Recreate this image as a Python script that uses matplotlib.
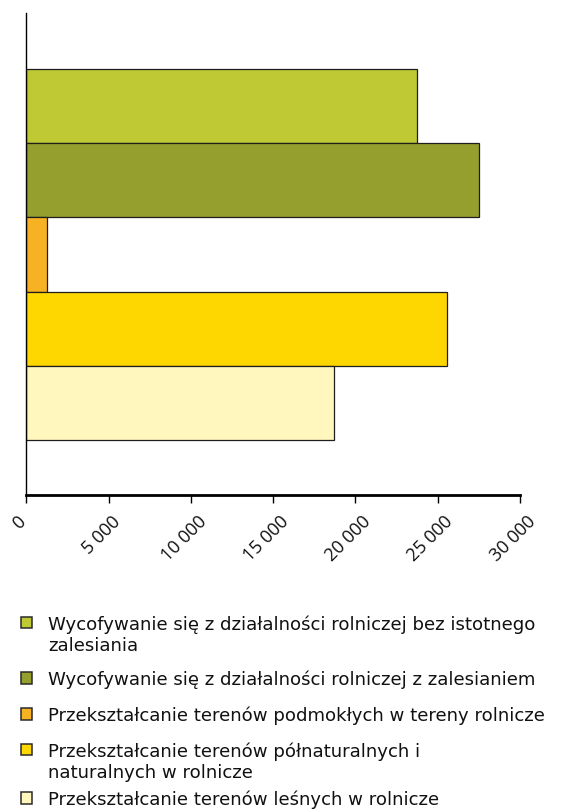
import numpy as np
import matplotlib
matplotlib.use("Agg")
import matplotlib.pyplot as plt
from matplotlib.patches import Rectangle
from matplotlib.transforms import ScaledTranslation
from matplotlib.ticker import FuncFormatter

# ha, one category split into five land-use change processes
labels = [
    "Wycofywanie się z działalności rolniczej bez istotnego\nzalesiania",
    "Wycofywanie się z działalności rolniczej z zalesianiem",
    "Przekształcanie terenów podmokłych w tereny rolnicze",
    "Przekształcanie terenów półnaturalnych i\nnaturalnych w rolnicze",
    "Przekształcanie terenów leśnych w rolnicze",
]
values = [23760, 27530, 1280, 25580, 18680]
colors = ["#BFC934", "#959F2E", "#F7B223", "#FFD700", "#FFF7BE"]
xticks = [0, 5000, 10000, 15000, 20000, 25000, 30000]

fig = plt.figure(figsize=(5.64, 8.11), dpi=100)
W, H = 564, 811
ax = fig.add_axes([26.3 / W, 1 - 495 / H, (520 - 26.3) / W, (495 - 12.5) / H])

pos = np.arange(len(values))
ax.barh(pos, values, height=1.0, color=colors, edgecolor="#1e1e1e", linewidth=0.9)

ax.set_xlim(0, 30000)
ax.set_ylim(4.5 + 0.74, -0.5 - 0.76)
ax.set_yticks([])
ax.set_xticks(xticks)
ax.xaxis.set_major_formatter(FuncFormatter(lambda v, p: f"{int(v):,}".replace(",", " ")))

for s in ["top", "right"]:
    ax.spines[s].set_visible(False)
ax.spines["left"].set_linewidth(1.0)
ax.spines["bottom"].set_linewidth(2.0)
ax.tick_params(axis="x", direction="out", length=5.5, width=1.0, pad=7)

off = ScaledTranslation(-7 / 100, 0, fig.dpi_scale_trans)
for lab in ax.get_xticklabels():
    lab.set_rotation(45)
    lab.set_ha("center")
    lab.set_va("top")
    lab.set_fontfamily("Open Sans")
    lab.set_fontsize(13)
    lab.set_color("#111111")
    lab.set_transform(lab.get_transform() + off)

# legend drawn by hand so the square sits on the first text line
rows = [622.5, 678, 714, 749.5, 798]
line_gap = 21.5
sq = 11.5
for y0, lab, c in zip(rows, labels, colors):
    fig.patches.append(Rectangle((20.5 / W, 1 - (y0 + sq / 2) / H), sq / W, sq / H,
                                 transform=fig.transFigure, facecolor=c,
                                 edgecolor="#2a2a2a", linewidth=1.1))
    for k, line in enumerate(lab.split("\n")):
        fig.text(48.5 / W, 1 - (y0 + k * line_gap) / H, line, ha="left",
                 va="center_baseline", fontsize=13.1, family="DejaVu Sans",
                 color="#111111")

fig.savefig("out.png", dpi=100)
